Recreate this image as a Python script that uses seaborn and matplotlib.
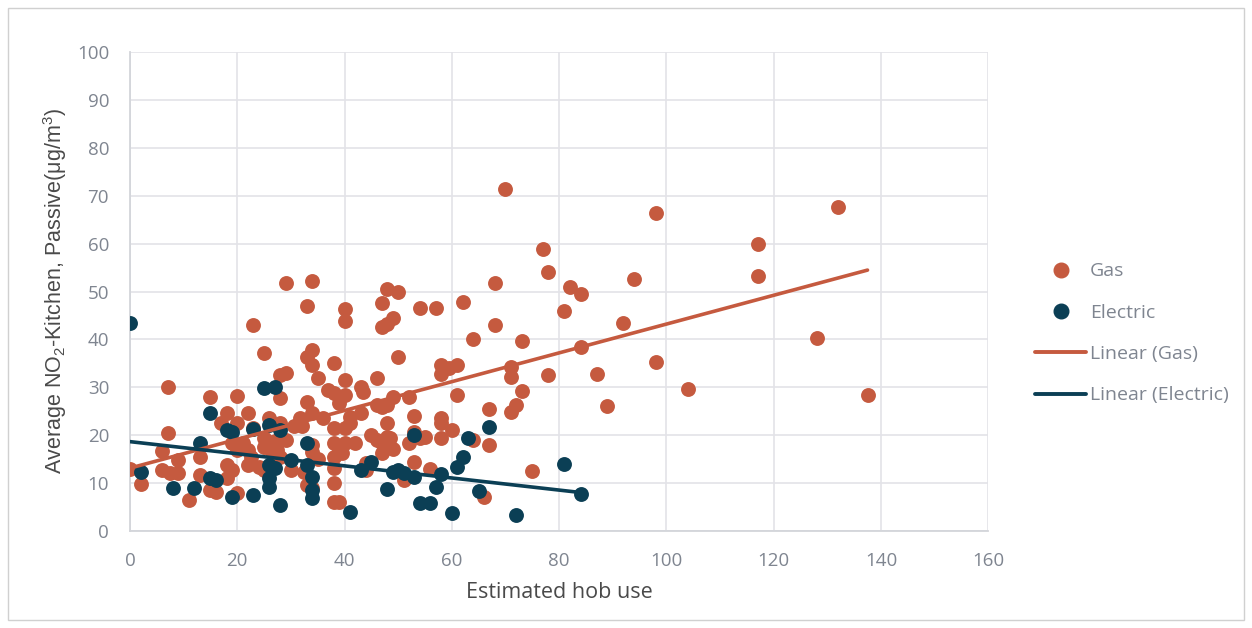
import numpy as np
import pandas as pd
import seaborn as sns
import matplotlib.pyplot as plt
from matplotlib.lines import Line2D
from matplotlib.patches import Rectangle

# data
gas_x = [0, 2, 6, 6, 7, 7, 7.5, 9, 9, 11, 13, 13, 15, 15, 16, 17, 18, 18, 18, 19,
         19, 20, 20, 20, 20, 21, 22, 22, 22, 22.5, 23, 23, 24, 25, 25, 25, 25, 26, 26, 26.5,
         27, 27.5, 28, 28, 28, 28, 29, 29, 29, 30, 30.6, 32, 31.7, 32.5, 33, 33, 33, 33, 34, 34,
         34, 34, 34, 34, 34, 35, 35, 36, 37, 38, 38, 38, 38, 38, 38, 38, 38, 39, 39, 39,
         39, 39.5, 40, 40, 40, 40, 40, 40, 41, 41, 42, 43, 43, 43.5, 44, 44, 45, 46, 46, 46,
         47, 47, 47, 47, 47, 48, 48, 48, 48, 48, 48.5, 49, 49, 49, 50, 50, 51, 52, 52, 53,
         53, 53, 54, 54, 55, 56, 57, 58, 58, 58, 58, 58, 59.5, 60, 61, 61, 62, 64, 64, 66,
         67, 67, 68, 68, 70, 71, 71, 71, 72, 73, 73, 75, 77, 78, 78, 81, 82, 84, 84, 87,
         89, 92, 94, 98, 98, 104, 117, 117, 128, 132, 137.5]
gas_y = [13, 9.8, 16.7, 12.7, 30, 20.5, 12.1, 14.8, 12.1, 6.5, 15.4, 11.7, 28, 8.6, 8.1, 22.5, 24.6, 13.8, 11.1, 12.7,
         18.4, 28.2, 22.5, 16.9, 8, 18.4, 24.6, 16.9, 13.8, 15.4, 43, 21.5, 13.4, 37.2, 12.7, 17.5, 19.5, 23.6, 18.5, 16.5,
         18.8, 17, 32.6, 27.8, 22.5, 15.5, 51.8, 33, 19, 12.7, 22, 22, 23.6, 12.3, 47, 36.3, 27, 9.6, 52.2, 37.8,
         34.7, 24.6, 18, 16.5, 9, 32, 15, 23.6, 29.4, 35.1, 28.8, 21.5, 18.4, 15.4, 13.2, 10, 6, 28, 26.7, 17,
         6, 16.3, 46.3, 43.8, 31.5, 28.4, 21.5, 18.4, 23.8, 22.5, 18.4, 30, 24.6, 29, 14.2, 12.7, 20, 32, 26.3, 19,
         47.6, 42.6, 25.9, 18.4, 16.3, 50.5, 43.2, 26.3, 22.5, 19.6, 19.4, 44.5, 28, 17.1, 49.9, 36.3, 10.6, 28, 18.4, 24,
         20.7, 14.4, 46.5, 19.4, 19.6, 13, 46.5, 34.7, 32.8, 23.6, 22.5, 19.4, 34, 21, 34.7, 28.4, 47.8, 40, 19, 7,
         25.5, 18, 51.8, 43, 71.4, 34.2, 32.2, 24.8, 26.3, 39.7, 29.2, 12.5, 58.9, 54, 32.5, 45.9, 51, 49.5, 38.4, 32.8,
         26.1, 43.4, 52.6, 66.4, 35.3, 29.6, 59.9, 53.2, 40.3, 67.6, 28.4]

elec_x = [0, 2, 8, 12, 13, 15, 15, 16, 18, 19, 19, 23, 23, 25, 27, 26, 28, 26, 27, 26,
          26, 30, 28, 33, 33, 34, 34, 34, 41, 45, 43, 48, 49, 50, 51, 53, 53, 54, 56, 57,
          58, 60, 61, 62, 63, 65, 67, 72, 81, 84]
elec_y = [43.4, 12.3, 9, 9, 18.4, 24.6, 11, 10.6, 21, 20.7, 7.1, 21.3, 7.5, 29.8, 30, 22.1, 21.1, 13.8, 13.2, 11.1,
          9.2, 14.8, 5.4, 18.4, 13.8, 11.3, 8.6, 6.9, 4, 14.4, 12.7, 8.8, 12.3, 12.7, 12.1, 11.3, 20, 5.8, 5.8, 9.2,
          11.9, 3.8, 13.4, 15.4, 19.4, 8.4, 21.7, 3.3, 14, 7.7]

gas_color = '#C55A3F'
elec_color = '#0B3F55'
tick_color = '#7F8590'

gas = pd.DataFrame({'hob': gas_x, 'no2': gas_y})
elec = pd.DataFrame({'hob': elec_x, 'no2': elec_y})

sns.set_style('white')
plt.rcParams['font.family'] = ['Open Sans', 'DejaVu Sans']

fig = plt.figure(figsize=(12.52, 6.28), dpi=100)
ax = fig.add_axes([0.1038, 0.1545, 0.6855, 0.7625])

# scatter points
sns.scatterplot(data=gas, x='hob', y='no2', color=gas_color, s=115, linewidth=0, ax=ax, zorder=3)
sns.scatterplot(data=elec, x='hob', y='no2', color=elec_color, s=115, linewidth=0, ax=ax, zorder=4)

# linear trendlines
sns.regplot(data=gas, x='hob', y='no2', scatter=False, ci=None, truncate=True,
            line_kws={'color': gas_color, 'lw': 2.6, 'zorder': 5}, ax=ax)
sns.regplot(data=elec, x='hob', y='no2', scatter=False, ci=None, truncate=True,
            line_kws={'color': elec_color, 'lw': 2.6, 'zorder': 6}, ax=ax)

ax.set_xlim(0, 160)
ax.set_ylim(0, 100)
ax.set_xticks(range(0, 161, 20))
ax.set_yticks(range(0, 101, 10))
ax.grid(True, color='#E3E3E8', lw=1.2)
ax.set_axisbelow(True)
for side in ['top', 'right']:
    ax.spines[side].set_visible(False)
for side in ['left', 'bottom']:
    ax.spines[side].set_color('#D3D5DA')
    ax.spines[side].set_linewidth(1.3)
ax.tick_params(axis='both', length=0, labelsize=13.5, labelcolor=tick_color, pad=15)

ax.set_xlabel('Estimated hob use', fontsize=15.5, color='#4A4A4A', labelpad=9)
ax.set_ylabel('Average NO$_\\mathregular{2}$-Kitchen, Passive(μg/m$^\\mathregular{3}$)',
              fontsize=15.5, color='#4A4A4A', labelpad=6, family=['Liberation Sans', 'DejaVu Sans'])

handles = [
    Line2D([], [], ls='none', marker='o', ms=10.5, color=gas_color),
    Line2D([], [], ls='none', marker='o', ms=10.5, color=elec_color),
    Line2D([], [], color=gas_color, lw=2.8),
    Line2D([], [], color=elec_color, lw=2.8),
]
labels = ['Gas', 'Electric', 'Linear (Gas)', 'Linear (Electric)']
leg = fig.legend(handles, labels, loc='upper left', bbox_to_anchor=(0.813, 0.61),
                 frameon=False, fontsize=14, handlelength=2.6, handletextpad=0.2,
                 labelspacing=1.2)
for t in leg.get_texts():
    t.set_color(tick_color)

# outer chart border
fig.patches.append(Rectangle((0.006, 0.012), 0.988, 0.976, transform=fig.transFigure,
                             fill=False, edgecolor='#D0D0D0', lw=1))

fig.savefig('out.png', dpi=100)
